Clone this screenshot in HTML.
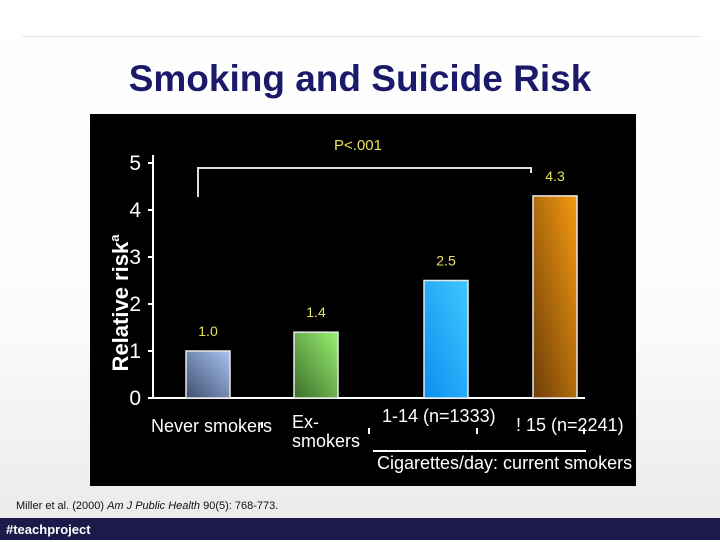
<!DOCTYPE html>
<html><head><meta charset="utf-8"><style>
body{margin:0;width:720px;height:540px;overflow:hidden;font-family:"Liberation Sans",sans-serif;background:linear-gradient(#fff 0%,#fbfbfb 60%,#e9e9e9 100%);position:relative}
</style></head><body>
<div style="position:absolute;left:22px;top:36px;width:680px;height:1px;background:#e4e4e4"></div>
<div style="position:absolute;left:0;width:720px;top:58px;text-align:center;font-size:37px;font-weight:bold;color:#1b1a6a">Smoking and Suicide Risk</div>
<svg style="position:absolute;left:90px;top:114px" width="546" height="372" viewBox="90 114 546 372">
<rect x="90" y="114" width="546" height="372" fill="#000"/>
<defs>
<linearGradient id="g0" x1="0" y1="1" x2="1" y2="0"><stop offset="0" stop-color="#3f4f70"/><stop offset="1" stop-color="#a8c4f0"/></linearGradient>
<linearGradient id="g1" x1="0" y1="1" x2="1" y2="0"><stop offset="0" stop-color="#3d6e2c"/><stop offset="1" stop-color="#98f070"/></linearGradient>
<linearGradient id="g2" x1="0" y1="1" x2="1" y2="0"><stop offset="0" stop-color="#0a8ff0"/><stop offset="1" stop-color="#40c8ff"/></linearGradient>
<linearGradient id="g3" x1="0" y1="1" x2="1" y2="0"><stop offset="0" stop-color="#6e3e08"/><stop offset="1" stop-color="#f59a10"/></linearGradient>
</defs>
<g id="plot"></g>
<text x="358" y="150" fill="#e8e060" font-size="15" text-anchor="middle">P&lt;.001</text>
<path d="M198,197 V168 H531 V173" stroke="#ddd" stroke-width="2" fill="none"/>
<text transform="translate(128,303) rotate(-90)" fill="#fff" font-size="22" font-weight="bold" text-anchor="middle">Relative risk<tspan font-size="13" dy="-9">a</tspan></text>
<text x="151" y="432" fill="#fff" font-size="18">Never smokers</text>
<text x="292" y="428" fill="#fff" font-size="18">Ex-</text>
<text x="292" y="447" fill="#fff" font-size="18">smokers</text>
<text x="382" y="422" fill="#fff" font-size="18">1-14 (n=1333)</text>
<text x="516" y="431" fill="#fff" font-size="18">! 15 (n=2241)</text>
<path d="M262,422v6M369,428v6M477,428v6M584,428v6" stroke="#fff" stroke-width="2"/>
<line x1="373" y1="451" x2="586" y2="451" stroke="#fff" stroke-width="2"/>
<text x="377" y="469" fill="#fff" font-size="18">Cigarettes/day: current smokers</text>
</svg>
<div style="position:absolute;left:16px;top:500px;font-size:11px;color:#111">Miller et al. (2000) <i>Am J Public Health</i> 90(5): 768-773.</div>
<div style="position:absolute;left:0;top:518px;width:720px;height:22px;background:#1c1a4a;color:#fff;font-size:13px;font-weight:bold;line-height:24px;padding-left:6px;box-sizing:border-box">#teachproject</div>
<script>
const categories=["Never smokers","Ex-smokers","1-14","15+"];
const values=[1.0,1.4,2.5,4.3];
const valueLabels=["1.0","1.4","2.5","4.3"];
const ticks=[0,1,2,3,4,5];
const y0=398,ppu=47;
function yScale(v){return y0-v*ppu;}
function xScale(i){return [208,316,446,555][i];}
const ns="http://www.w3.org/2000/svg",g=document.getElementById('plot');
function mk(t,a){const e=document.createElementNS(ns,t);for(const k in a)e.setAttribute(k,a[k]);g.appendChild(e);return e;}
let ax=mk('path',{d:`M153,${yScale(5)-8} V${y0} H585`,stroke:'#fff','stroke-width':2,fill:'none'});


ticks.forEach(t=>{
 const l=mk('line',{x1:148,x2:153,y1:yScale(t),y2:yScale(t),stroke:'#fff','stroke-width':2});
 
 
 const tx=mk('text',{x:141,y:yScale(t)+7,fill:'#fff','font-size':21,'text-anchor':'end'});
 tx.textContent=t;
 
 
});
values.forEach((v,i)=>{
 const r=mk('rect',{x:xScale(i)-22,y:yScale(v),width:44,height:y0-yScale(v),fill:`url(#g${i})`,stroke:'#e8e8e8','stroke-width':1.5});
 
 
 const t=mk('text',{x:xScale(i),y:yScale(v)-15,fill:'#e8e060','font-size':14,'text-anchor':'middle'});
 t.textContent=valueLabels[i];
 
 
});
</script>
</body></html>
